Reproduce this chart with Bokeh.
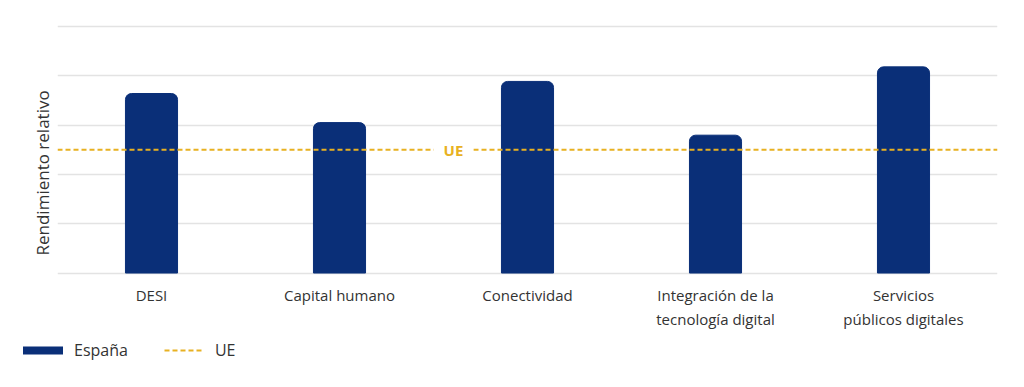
from bokeh.plotting import figure
from bokeh.models import (FactorRange, Range1d, FixedTicker, Span, Label, Legend,
                          LegendItem, ColumnDataSource, Title)
from bokeh.embed import file_html
from bokeh.resources import INLINE

categories = ["DESI", "Capital humano", "Conectividad",
              "Integración de la\ntecnología digital", "Servicios\npúblicos digitales"]
espana = [72.8, 61.0, 77.7, 55.9, 83.6]
ue_value = 50.0
y_ticks = [0, 20, 40, 60, 80, 100]

NAVY = "#0a2f78"
GOLD = "#e8b122"
TEXT = "#333333"
FONT = "Open Sans"
W = 1020

p = figure(width=W, height=335, x_range=FactorRange(*categories, range_padding=0),
           y_range=Range1d(-1, 102), output_backend="svg", toolbar_location=None,
           min_border_left=57, min_border_right=W - 997, min_border_top=21,
           min_border_bottom=60)
p.outline_line_color = None
p.background_fill_color = "white"
p.border_fill_color = "white"

src = ColumnDataSource(dict(cat=categories, val=espana))
p.vbar(x="cat", top="val", bottom=0, width=0.277, source=src, fill_color=NAVY,
       line_color=NAVY, border_radius=(6, 6, 0, 0))

span = Span(location=ue_value, dimension="width", line_color=GOLD, line_width=2,
            line_dash="5 3")
p.add_layout(span)
lbl = Label(x=2.106, y=ue_value, text="UE", text_color=GOLD, text_font=FONT,
            text_font_size="15px", text_font_style="bold", text_align="center",
            text_baseline="middle", background_fill_color="white", padding=10)
p.add_layout(lbl)

p.xgrid.grid_line_color = None
p.ygrid.ticker = FixedTicker(ticks=y_ticks)
p.ygrid.grid_line_color = "#e3e3e3"
p.ygrid.grid_line_width = 1.5
p.yaxis.ticker = FixedTicker(ticks=[])
p.yaxis.major_tick_line_color = None
p.yaxis.minor_tick_line_color = None
p.yaxis.axis_line_color = None
p.yaxis.major_label_standoff = 0
p.yaxis.major_tick_out = 0

# y-axis title as a side title, shifted toward the bottom of the frame
ytitle = Title(text="Rendimiento relativo", align="left", offset=20,
               text_color=TEXT, text_font=FONT, text_font_size="17px",
               text_font_style="normal", standoff=8)
p.add_layout(ytitle, "left")

p.xaxis.axis_line_color = None
p.xaxis.major_tick_line_color = None
p.xaxis.major_tick_out = 0
p.xaxis.major_label_text_font = FONT
p.xaxis.major_label_text_font_size = "15px"
p.xaxis.major_label_text_color = TEXT
p.xaxis.major_label_standoff = 9

# legend figure (separate root, so its frame is not aligned with the chart)
lg = figure(width=W, height=50, output_backend="svg", toolbar_location=None,
            min_border=0, x_range=Range1d(0, 1), y_range=Range1d(0, 1),
            x_axis_location=None, y_axis_location=None)
lg.outline_line_color = None
lg.grid.visible = False
r_es = lg.line(x=[-10, -9], y=[-10, -10], line_color=NAVY, line_width=8,
               line_cap="round", line_join="round")
r_ue = lg.line(x=[-10, -9], y=[-10, -10], line_color=GOLD, line_width=2, line_dash="5 3")
legend = Legend(items=[LegendItem(label="España", renderers=[r_es]),
                       LegendItem(label="UE", renderers=[r_ue])],
                location=(23, 24), orientation="horizontal", padding=0, margin=0,
                border_line_color=None, background_fill_alpha=0,
                glyph_width=40, glyph_height=20, label_standoff=11, spacing=36,
                label_text_font=FONT, label_text_font_size="16px",
                label_text_color=TEXT)
lg.add_layout(legend, "center")

open("out.html", "w").write(file_html([p, lg], INLINE))
